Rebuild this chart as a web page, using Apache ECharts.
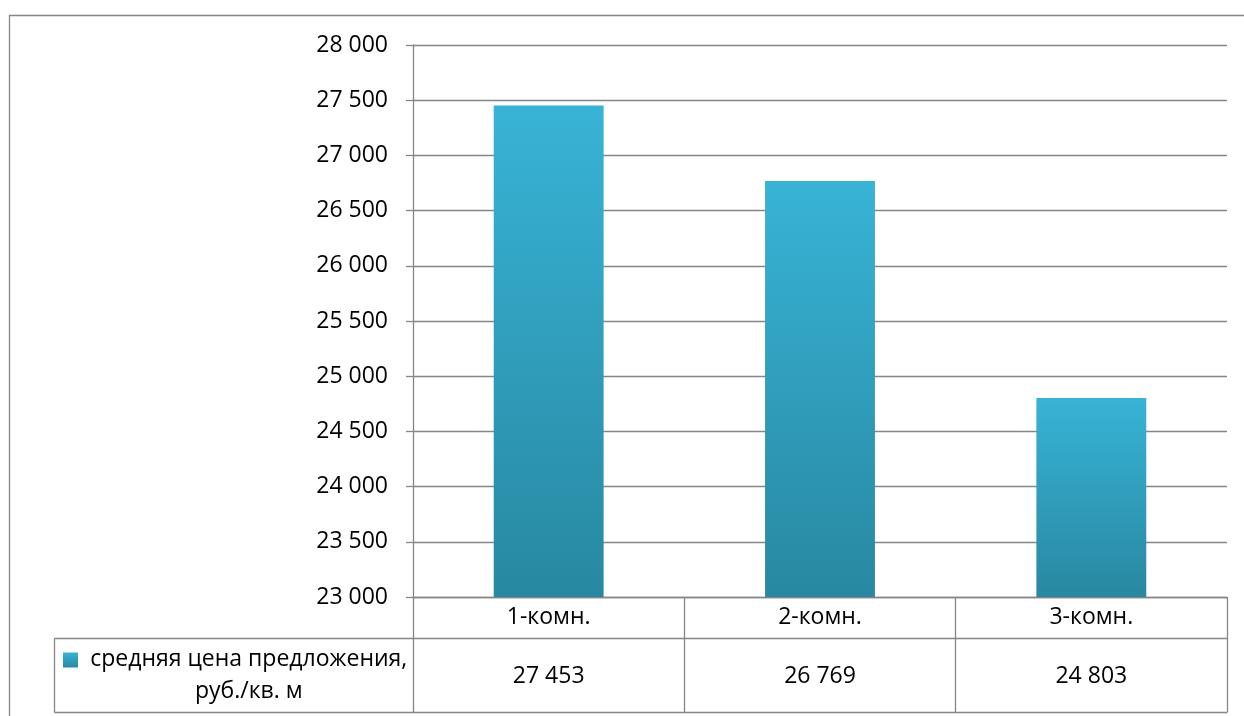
<!DOCTYPE html>
<html>
<head>
<meta charset="utf-8">
<title>Средняя цена предложения</title>
<script src="https://cdn.jsdelivr.net/npm/echarts@6/dist/echarts.min.js"></script>
<style>
  html, body { margin: 0; padding: 0; background: #fff; }
  #chart { width: 1244px; height: 716px; }
</style>
</head>
<body>
<div id="chart"></div>
<script>
// Average asking price per square metre by apartment size
const categories = ['1-комн.', '2-комн.', '3-комн.'];
const prices = [27453, 26769, 24803];
const seriesName = 'средняя цена предложения,\nруб./кв. м';
const yMin = 23000;
const yMax = 28000;
const yStep = 500;

const FONT = '"Open Sans", "Noto Sans", sans-serif';
const FS = 23;
const LINE = '#868686';
const LW = 1.3;

// thousands separated by a space: 27 453
function fmt(v) {
  return String(v).replace(/\B(?=(\d{3})+(?!\d))/g, ' ');
}

function barFill() {
  return new echarts.graphic.LinearGradient(0, 0, 0, 1, [
    { offset: 0, color: '#38b3d6' },
    { offset: 1, color: '#2888a1' }
  ]);
}

const chart = echarts.init(document.getElementById('chart'));

const option = {
  animation: false,
  backgroundColor: '#fff',
  textStyle: { fontFamily: FONT },
  grid: { left: 413, right: 17, top: 45, bottom: 119, containLabel: false },
  yAxis: {
    type: 'value',
    min: yMin,
    max: yMax,
    interval: yStep,
    axisLine: { show: true, lineStyle: { color: LINE, width: LW } },
    axisTick: { show: true, length: 7, lineStyle: { color: LINE, width: LW } },
    splitLine: { show: true, lineStyle: { color: LINE, width: LW } },
    axisLabel: {
      margin: 25,
      color: '#000',
      fontSize: FS,
      fontFamily: FONT,
      formatter: v => fmt(v)
    }
  },
  xAxis: [
    {
      type: 'category',
      data: categories,
      position: 'bottom',
      axisLine: { show: true, lineStyle: { color: LINE, width: LW } },
      // ticks between categories form the table's column borders
      axisTick: { show: true, length: 115, inside: false, lineStyle: { color: LINE, width: LW } },
      axisLabel: {
        margin: 20,
        verticalAlign: 'middle',
        color: '#000',
        fontSize: FS,
        fontFamily: FONT
      }
    },
    {
      // value row of the data table
      type: 'category',
      data: categories,
      position: 'bottom',
      offset: 0,
      axisLine: { show: false },
      axisTick: { show: false },
      axisLabel: {
        margin: 79,
        verticalAlign: 'middle',
        color: '#000',
        fontSize: FS,
        fontFamily: FONT,
        formatter: (v, i) => fmt(prices[i])
      }
    }
  ],
  series: [
    {
      name: seriesName,
      type: 'bar',
      xAxisIndex: 0,
      data: prices,
      barWidth: '40.5%',
      itemStyle: {
        color: barFill(),
        shadowBlur: 5,
        shadowColor: 'rgba(0,0,0,0.28)',
        shadowOffsetX: 1,
        shadowOffsetY: 1
      }
    }
  ]
};

chart.setOption(option);

// Data table borders and legend cell, placed from the grid geometry
function drawTable() {
  const x0 = chart.convertToPixel({ xAxisIndex: 0 }, categories[0]);
  const x2 = chart.convertToPixel({ xAxisIndex: 0 }, categories[categories.length - 1]);
  const band = (x2 - x0) / (categories.length - 1);
  const left = Math.round(x0 - band / 2) + 0.5;
  const right = Math.round(x2 + band / 2) + 0.5;
  const base = chart.convertToPixel({ yAxisIndex: 0 }, yMin);
  const rowTop = Math.round(base + 41) + 0.5;
  const rowBottom = Math.round(base + 115) + 0.5;
  const legendLeft = 54.5;
  const ls = { stroke: LINE, lineWidth: LW };

  chart.setOption({
    graphic: [
      // outer chart frame
      { type: 'rect', shape: { x: 9.5, y: 15.5, width: 1260, height: 740 }, style: { fill: 'none', stroke: LINE, lineWidth: LW }, silent: true },
      { type: 'line', shape: { x1: legendLeft, y1: rowTop, x2: right, y2: rowTop }, style: ls, silent: true },
      { type: 'line', shape: { x1: legendLeft, y1: rowBottom, x2: right, y2: rowBottom }, style: ls, silent: true },
      { type: 'line', shape: { x1: legendLeft, y1: rowTop, x2: legendLeft, y2: rowBottom }, style: ls, silent: true },
      // legend key
      {
        type: 'rect',
        shape: { x: 63, y: rowTop + 14, width: 15, height: 15 },
        style: { fill: barFill() },
        silent: true
      },
      {
        type: 'text',
        x: (84 + left) / 2,
        y: (rowTop + rowBottom) / 2,
        style: {
          text: seriesName,
          fontFamily: FONT,
          fontSize: FS,
          lineHeight: 32,
          fill: '#000',
          align: 'center',
          verticalAlign: 'middle'
        },
        silent: true
      }
    ]
  });
}
drawTable();
</script>
</body>
</html>
